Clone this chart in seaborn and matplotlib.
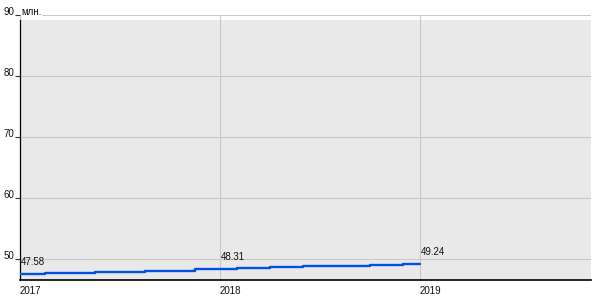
import matplotlib
matplotlib.use("Agg")
import matplotlib.pyplot as plt
import seaborn as sns
import pandas as pd
from matplotlib.patches import Rectangle

# ---- data ----
periods = [2017.0, 2017.25, 2017.5, 2017.75, 2018.0,
           2018.1667, 2018.3333, 2018.5, 2018.6667, 2018.8333, 2019.0]
values = [47.58, 47.72, 47.88, 48.08, 48.31,
          48.46, 48.62, 48.78, 48.93, 49.08, 49.24]
labeled_periods = [2017.0, 2018.0, 2019.0]
x_ticks = [2017, 2018, 2019]
x_tick_labels = ["2017", "2018", "2019"]
y_ticks = [50, 60, 70, 80, 90]
unit_label = "млн."

df = pd.DataFrame({"period": periods, "value": values})

sns.set_theme(style="white")
plt.rcParams["font.family"] = ["Liberation Sans", "DejaVu Sans"]

FS = 7
TXT = "#111111"

fig = plt.figure(figsize=(6, 3), dpi=100)
ax = fig.add_axes([20 / 600, 20 / 300, 571 / 600, 265 / 300])

y_bottom = 46.557
y_top = 90.0
plot_top = 89.18
x_left = 2017.0
x_right = 2019.855

ax.set_facecolor("white")
ax.add_patch(Rectangle((x_left, y_bottom), x_right - x_left, plot_top - y_bottom,
                       facecolor="#e9e9e9", edgecolor="none", zorder=0))

sns.lineplot(data=df, x="period", y="value", ax=ax, drawstyle="steps-mid",
             color="#0050e6", linewidth=1.7, zorder=3, errorbar=None)

for p, v in zip(periods, values):
    if p in labeled_periods:
        ax.annotate(f"{v:.2f}", xy=(p, v), xytext=(0.3, 5), textcoords="offset points",
                    ha="left", va="bottom", fontsize=FS, color=TXT, zorder=4)

ax.set_xlim(x_left, x_right)
ax.set_ylim(y_bottom, y_top)
ax.set_xticks(x_ticks)
ax.set_xticklabels(x_tick_labels)
ax.set_yticks(y_ticks)
ax.set_yticklabels([str(t) for t in y_ticks])
ax.set_xlabel("")
ax.set_ylabel("")

ax.grid(True, color="#c8c8c8", linewidth=0.8, zorder=1)
ax.set_axisbelow(True)

ax.tick_params(axis="x", bottom=False, length=0, pad=4, labelsize=FS, labelcolor=TXT)
ax.tick_params(axis="y", left=True, length=3.6, width=0.8, pad=0.8, labelsize=FS,
               labelcolor=TXT, color="#333333", direction="out")
for lab in ax.get_xticklabels():
    lab.set_ha("left")
for lab in ax.get_yticklabels():
    lab.set_va("baseline")

for s in ["top", "right"]:
    ax.spines[s].set_visible(False)
ax.spines["left"].set_color("black")
ax.spines["left"].set_linewidth(0.9)
ax.spines["left"].set_bounds(y_bottom, plot_top)
ax.spines["bottom"].set_color("black")
ax.spines["bottom"].set_linewidth(1.2)

ax.text(x_left + 0.005, 90, unit_label, ha="left", va="baseline", fontsize=FS,
        color=TXT, zorder=5, bbox=dict(facecolor="white", edgecolor="none", pad=0.3))

fig.savefig("out.png", dpi=100, facecolor="white")
